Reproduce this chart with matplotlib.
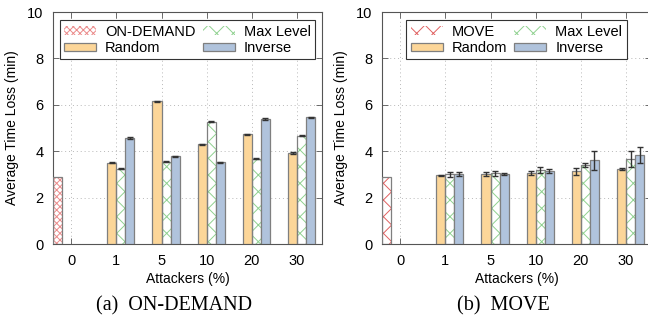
import numpy as np
import matplotlib
matplotlib.use("Agg")
import matplotlib.pyplot as plt
from matplotlib.patches import Patch

plt.rcParams['font.family'] = ['Liberation Sans', 'DejaVu Sans']
plt.rcParams['font.size'] = 10
plt.rcParams['hatch.linewidth'] = 0.7

groups = ['0', '1', '5', '10', '20', '30']

# panel (a) ON-DEMAND
od_base = [2.9, 0, 0, 0, 0, 0]
od_random = [0, 3.50, 6.15, 4.30, 4.73, 3.92]
od_maxlevel = [0, 3.25, 3.55, 5.27, 3.68, 4.67]
od_inverse = [0, 4.57, 3.78, 3.52, 5.38, 5.46]
od_random_err = [0, 0.03, 0.03, 0.03, 0.03, 0.03]
od_maxlevel_err = [0, 0.03, 0.03, 0.03, 0.03, 0.03]
od_inverse_err = [0, 0.03, 0.03, 0.03, 0.03, 0.03]

# panel (b) MOVE
mv_base = [2.9, 0, 0, 0, 0, 0]
mv_random = [0, 2.97, 3.00, 3.06, 3.13, 3.23]
mv_maxlevel = [0, 3.00, 3.05, 3.19, 3.40, 3.65]
mv_inverse = [0, 3.02, 3.02, 3.13, 3.60, 3.82]
mv_random_err = [0, 0.02, 0.09, 0.09, 0.14, 0.06]
mv_maxlevel_err = [0, 0.11, 0.11, 0.15, 0.10, 0.34]
mv_inverse_err = [0, 0.08, 0.04, 0.09, 0.43, 0.34]

c_random = '#fcd699'
c_inverse = '#b0c3dc'
c_edge = '#7f7f7f'
c_green = '#8fd18f'
c_red = '#e06060'
c_pink = '#eb8a8a'


def hatched_bar(ax, x, h, w, hatch, hcolor):
    # hatch drawn with edgecolor, outline drawn on top
    ax.bar(x, h, w, color='white', edgecolor=hcolor, hatch=hatch, linewidth=0, zorder=2)
    ax.bar(x, h, w, fill=False, edgecolor=c_edge, linewidth=0.9, zorder=3)


def panel(ax, base, rnd, mx, inv, rerr, merr, ierr, base_name, base_hatch, base_color):
    x = np.arange(len(groups))
    w = 0.2
    ekw = dict(ecolor='#333333', elinewidth=1.0, capsize=2.5, capthick=1.0, zorder=4)
    xb = x[:1] - 0.3
    hatched_bar(ax, xb, base[:1], w, base_hatch, base_color)
    xs = x[1:]
    ax.bar(xs - 0.1, rnd[1:], w, color=c_random, edgecolor=c_edge, linewidth=0.9, zorder=3)
    ax.errorbar(xs - 0.1, rnd[1:], yerr=rerr[1:], fmt='none', **ekw)
    hatched_bar(ax, xs + 0.1, mx[1:], w, 'xx', c_green)
    ax.errorbar(xs + 0.1, mx[1:], yerr=merr[1:], fmt='none', **ekw)
    ax.bar(xs + 0.3, inv[1:], w, color=c_inverse, edgecolor=c_edge, linewidth=0.9, zorder=3)
    ax.errorbar(xs + 0.3, inv[1:], yerr=ierr[1:], fmt='none', **ekw)

    ax.set_xlim(-0.4, 5.55)
    ax.set_ylim(0, 10)
    ax.set_xticks(x)
    ax.set_xticklabels(groups)
    ax.set_yticks([0, 2, 4, 6, 8, 10])
    ax.tick_params(direction='in', top=True, right=True, length=4, width=0.6,
                   color='#555555', labelsize=10.5, pad=7)
    ax.grid(True, linestyle=(0, (1, 3)), color='#b8b8b8', linewidth=0.7, zorder=0)
    ax.set_axisbelow(True)
    for s in ax.spines.values():
        s.set_color('#555555')
        s.set_linewidth(0.8)
    ax.set_xlabel('Attackers (%)', labelpad=3)
    ax.set_ylabel('Average Time Loss (min)', labelpad=6)

    handles = [
        Patch(facecolor='white', edgecolor=base_color, hatch=base_hatch, linewidth=0, label=base_name),
        Patch(facecolor=c_random, edgecolor=c_edge, linewidth=0.9, label='Random'),
        Patch(facecolor='white', edgecolor=c_green, hatch='xx', linewidth=0, label='Max Level'),
        Patch(facecolor=c_inverse, edgecolor=c_edge, linewidth=0.9, label='Inverse'),
    ]
    leg = ax.legend(handles=handles, ncol=2, loc='upper center', bbox_to_anchor=(0.5, 0.995),
                    fancybox=False, framealpha=1, edgecolor='#333333', handlelength=2.2,
                    handleheight=0.5, borderpad=0.3, labelspacing=0.15, columnspacing=0.5,
                    handletextpad=0.6, fontsize=10.5)
    leg.get_frame().set_linewidth(0.8)


fig = plt.figure(figsize=(6.48, 3.25), dpi=100)
W, H = 648.0, 325.0
ax1 = fig.add_axes([53 / W, 81 / H, 269 / W, 232 / H])
ax2 = fig.add_axes([382 / W, 81 / H, 269 / W, 232 / H])

panel(ax1, od_base, od_random, od_maxlevel, od_inverse,
      od_random_err, od_maxlevel_err, od_inverse_err, 'ON-DEMAND', 'xxxxx', c_pink)
panel(ax2, mv_base, mv_random, mv_maxlevel, mv_inverse,
      mv_random_err, mv_maxlevel_err, mv_inverse_err, 'MOVE', 'xx', c_red)

fig.text(174 / W, 1 - 306 / H, '(a)  ON-DEMAND', family=['Liberation Serif'], fontsize=14.5,
         ha='center', va='center')
fig.text(503 / W, 1 - 306 / H, '(b)  MOVE', family=['Liberation Serif'], fontsize=14.5,
         ha='center', va='center')

fig.savefig('out.png', dpi=100)
